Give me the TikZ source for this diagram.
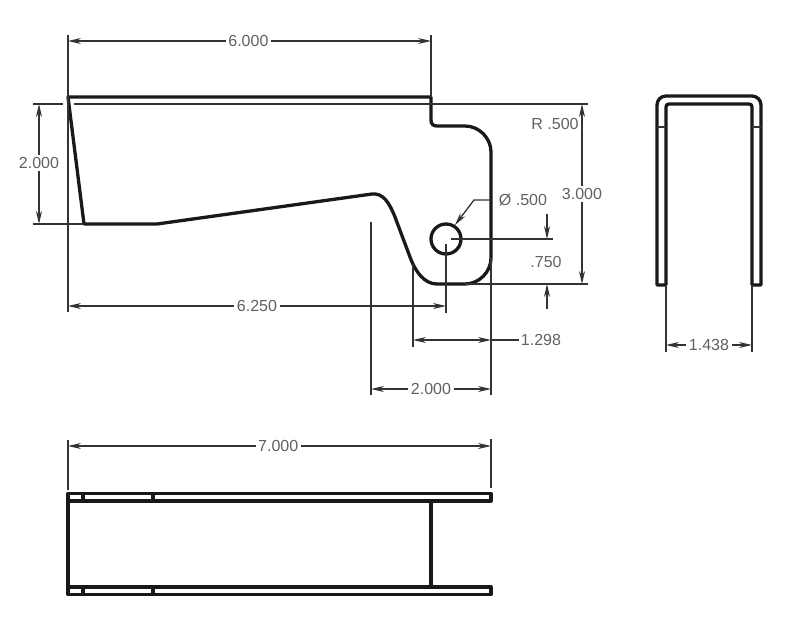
\documentclass[tikz,border=0pt]{standalone}
\usepackage{fontspec}
\setmainfont{Liberation Sans}
\usetikzlibrary{arrows.meta,positioning}

\tikzset{
	body/.style={line width=3.3pt, black!90, line join=round},
	thin dim/.style={line width=1.3pt, black!80},
	dim/.style={thin dim, {Stealth[length=13pt,width=6pt]}-{Stealth[length=13pt,width=6pt]}},
	tip end/.style={thin dim, -{Stealth[length=13pt,width=6pt]}},
	dimlabel/.style={fill=white, inner sep=2.5pt, text=black!62, font=\fontsize{16}{16}\selectfont},
	freelabel/.style={inner sep=0pt, text=black!62, font=\fontsize{16}{16}\selectfont}
}

\begin{document}
\begin{tikzpicture}[x=1pt, y=-1pt]
	\useasboundingbox (0,0) rectangle (800,640);
	
	\coordinate (a1) at (68,97);
	\coordinate[right=363pt of a1] (b1);
	\coordinate (c1) at (437,126);
	\coordinate (d1) at (465,126);
	\coordinate (e1) at (491,152);
	\coordinate (e2) at (491,258);
	\coordinate (d2) at (465,284);
	\coordinate (c2) at (437,284);
	\coordinate (f2) at (410,257);
	\coordinate (f1) at (395,217);
	\coordinate (g1) at (372,194);
	\coordinate (h1) at (157,224);
	\coordinate (i1) at (84,224);
	\coordinate (A) at (446,239);
	
	\def\holer{15}
	
	% front view
	\draw[body] (a1) -- (b1) -- (431,120) .. controls (431,124) and (433,126) .. (c1) -- (d1)
		.. controls (479,126) and (491,138) .. (e1) -- (e2)
		.. controls (491,272) and (479,284) .. (d2) -- (c2)
		.. controls (424,284) and (415,271) .. (f2) -- (f1)
		.. controls (389,202) and (383,193) .. (g1)
		-- (h1) -- (i1) -- cycle;
	\draw[body] (A) circle (\holer);
	
	% extension lines
	\draw[thin dim] (68,35) -- (a1) -- (68,312);
	\draw[thin dim] (431,35) -- (b1);
	\draw[thin dim] (33,104) -- (63,104);
	\draw[thin dim] (74,104) -- (588,104);
	\draw[thin dim] (33,224) -- (i1);
	\draw[thin dim] (d2) -- (588,284);
	\draw[thin dim] (451,239) -- (553,239);
	\draw[thin dim] (446,244) -- (446,313);
	\draw[thin dim] (413,264) -- (413,347);
	\draw[thin dim] (e2) -- (491,395);
	\draw[thin dim] (371,222) -- (371,395);
	
	% dimensions
	\draw[dim] (68,41) -- (431,41) node[pos=0.497,dimlabel] (w1) {6.000};
	\draw[dim] (39,104) -- (39,224) node[pos=0.49,dimlabel] (h2) {2.000};
	\draw[dim] (582,104) -- (582,284) node[pos=0.5,dimlabel] (h3) {3.000};
	\draw[dim] (68,306) -- (446,306) node[pos=0.5,dimlabel] (w2) {6.250};
	\draw[dim] (413,340) -- (491,340);
	\draw[thin dim] (491,340) -- (519,340);
	\node[freelabel] (w3) at (541,340) {1.298};
	\draw[dim] (371,389) -- (491,389) node[pos=0.5,dimlabel] (w4) {2.000};
	\draw[tip end] (547,214) -- (547,239);
	\draw[tip end] (547,309) -- (547,284);
	\node[freelabel] (h4) at (546,262) {.750};
	\node[freelabel] (r1) at (555,124) {R .500};
	\draw[tip end] (491,200) -- (474,200) -- (455,225);
	\node[freelabel] (r2) at (523,200) {Ø .500};
	
	% end view
	\draw[body] (666,285) -- (657,285) -- (657,105) .. controls (657,100) and (661,96) .. (666,96)
		-- (752,96) .. controls (757,96) and (761,100) .. (761,105) -- (761,285) -- (752,285);
	\draw[body] (666,285) -- (666,107) .. controls (666,105) and (667,104) .. (669,104)
		-- (749,104) .. controls (751,104) and (752,105) .. (752,107) -- (752,285);
	\draw[thin dim] (657,127) -- (666,127);
	\draw[thin dim] (752,127) -- (761,127);
	\draw[thin dim] (666,285) -- (666,352);
	\draw[thin dim] (752,285) -- (752,352);
	\draw[dim] (666,345) -- (752,345) node[pos=0.5,dimlabel] (w5) {1.438};
	
	% top view
	\draw[thin dim] (68,440) -- (68,490);
	\draw[thin dim] (491,439) -- (491,488);
	\draw[dim] (68,446) -- (491,446) node[pos=0.497,dimlabel] (w6) {7.000};
	\foreach \ytop/\ybot in {493.5/501, 587/594.5} {
		\draw[body] (68,\ytop) rectangle (491,\ybot);
		\draw[body] (83,\ytop) -- (83,\ybot);
		\draw[body] (153,\ytop) -- (153,\ybot);
	}
	\draw[body] (68,501) -- (68,587);
	\draw[body] (431,501) -- (431,587);
\end{tikzpicture}
\end{document}
